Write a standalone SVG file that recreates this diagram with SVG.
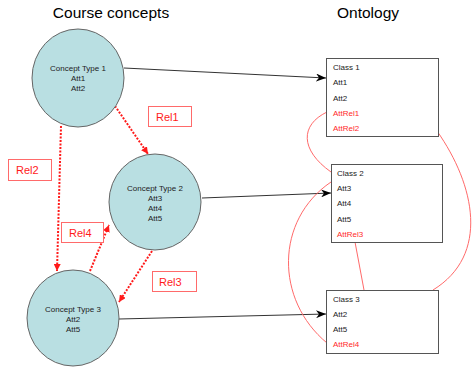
<svg xmlns="http://www.w3.org/2000/svg" width="473" height="369" viewBox="0 0 473 369">
<style>
.t{font-family:"Liberation Sans",Arial,sans-serif}
.title{font-size:15.5px;fill:#000}
.ct{font-size:8px;fill:#222;text-anchor:middle}
.cls{font-size:8px;fill:#222}
.rt{fill:#ff2a2a}
.circ{fill:#b9dfe2;stroke:#666;stroke-width:1}
.box{fill:#fff;stroke:#555;stroke-width:1}
.lbl{fill:#fff;stroke:#ff6a6a;stroke-width:1}
.lt{font-size:11px;fill:#ff1a1a}
.blk{stroke:#333;stroke-width:1;fill:none;marker-end:url(#ah)}
.rel{stroke:#ff1a1a;stroke-width:2;stroke-dasharray:2 1.5;fill:none;marker-end:url(#rh)}
.cv{stroke:#ff6a6a;stroke-width:1;fill:none}
</style>
<defs>
<marker id="ah" viewBox="0 0 10 8" refX="10" refY="4" markerWidth="10" markerHeight="8" markerUnits="userSpaceOnUse" orient="auto">
<path d="M0,0 L10,4 L0,8 L3,4 z" fill="#000"/>
</marker>
<marker id="rh" viewBox="0 0 8 8" refX="8" refY="4" markerWidth="7" markerHeight="7" markerUnits="userSpaceOnUse" orient="auto">
<path d="M0,0 L8,4 L0,8 z" fill="#ff1a1a"/>
</marker>
</defs>
<text class="t title" x="111" y="18" text-anchor="middle">Course concepts</text>
<text class="t title" x="368" y="18" text-anchor="middle">Ontology</text>
<g id="connectors">
<path class="blk" d="M124,68 L326,78"/>
<path class="blk" d="M202,198 L331,193"/>
<path class="blk" d="M119,319 L326,314"/>
<path class="rel" d="M115,106 L148,154"/>
<path class="rel" d="M61,126 L57,271"/>
<path class="rel" d="M90,271 L109,225"/>
<path class="rel" d="M152,251 L119,302"/>
<path class="cv" d="M327,112 C300,125 300,150 331,172"/>
<path class="cv" d="M437,131 C475,185 490,255 433,290"/>
<path class="cv" d="M355,242 L364,290"/>
<path class="cv" d="M331,182 C275,220 275,300 327,343"/>
</g>
<g id="concept1">
<ellipse class="circ" cx="78" cy="78" rx="46" ry="49"/>
<text class="t ct" x="78" y="71">Concept Type 1</text>
<text class="t ct" x="78" y="81">Att1</text>
<text class="t ct" x="78" y="91">Att2</text>
</g>
<g id="concept2">
<ellipse class="circ" cx="155" cy="202" rx="46" ry="48"/>
<text class="t ct" x="155" y="191">Concept Type 2</text>
<text class="t ct" x="155" y="201">Att3</text>
<text class="t ct" x="155" y="211">Att4</text>
<text class="t ct" x="155" y="221">Att5</text>
</g>
<g id="concept3">
<ellipse class="circ" cx="73" cy="318" rx="46" ry="48"/>
<text class="t ct" x="73" y="312">Concept Type 3</text>
<text class="t ct" x="73" y="322">Att2</text>
<text class="t ct" x="73" y="332">Att5</text>
</g>
<g id="class1">
<rect class="box" x="326.5" y="58.5" width="112" height="78"/>
<text class="t cls" x="333" y="70">Class 1</text>
<text class="t cls" x="333" y="85">Att1</text>
<text class="t cls" x="333" y="101">Att2</text>
<text class="t cls rt" x="333" y="116">AttRel1</text>
<text class="t cls rt" x="333" y="131">AttRel2</text>
</g>
<g id="class2">
<rect class="box" x="331.5" y="164.5" width="111" height="78"/>
<text class="t cls" x="337" y="176">Class 2</text>
<text class="t cls" x="337" y="191">Att3</text>
<text class="t cls" x="337" y="206">Att4</text>
<text class="t cls" x="337" y="222">Att5</text>
<text class="t cls rt" x="337" y="237">AttRel3</text>
</g>
<g id="class3">
<rect class="box" x="326.5" y="290.5" width="112" height="63"/>
<text class="t cls" x="333" y="302">Class 3</text>
<text class="t cls" x="333" y="317">Att2</text>
<text class="t cls" x="333" y="332">Att5</text>
<text class="t cls rt" x="333" y="347">AttRel4</text>
</g>
<g id="rel1">
<rect class="lbl" x="148.5" y="106.5" width="43" height="20"/>
<text class="t lt" x="156" y="120.5">Rel1</text>
</g>
<g id="rel2">
<rect class="lbl" x="8.5" y="159.5" width="43" height="21"/>
<text class="t lt" x="16" y="174">Rel2</text>
</g>
<g id="rel4">
<rect class="lbl" x="61.5" y="222.5" width="42" height="20"/>
<text class="t lt" x="69" y="236.5">Rel4</text>
</g>
<g id="rel3">
<rect class="lbl" x="152.5" y="271.5" width="44" height="20"/>
<text class="t lt" x="159" y="285.5">Rel3</text>
</g>
</svg>
